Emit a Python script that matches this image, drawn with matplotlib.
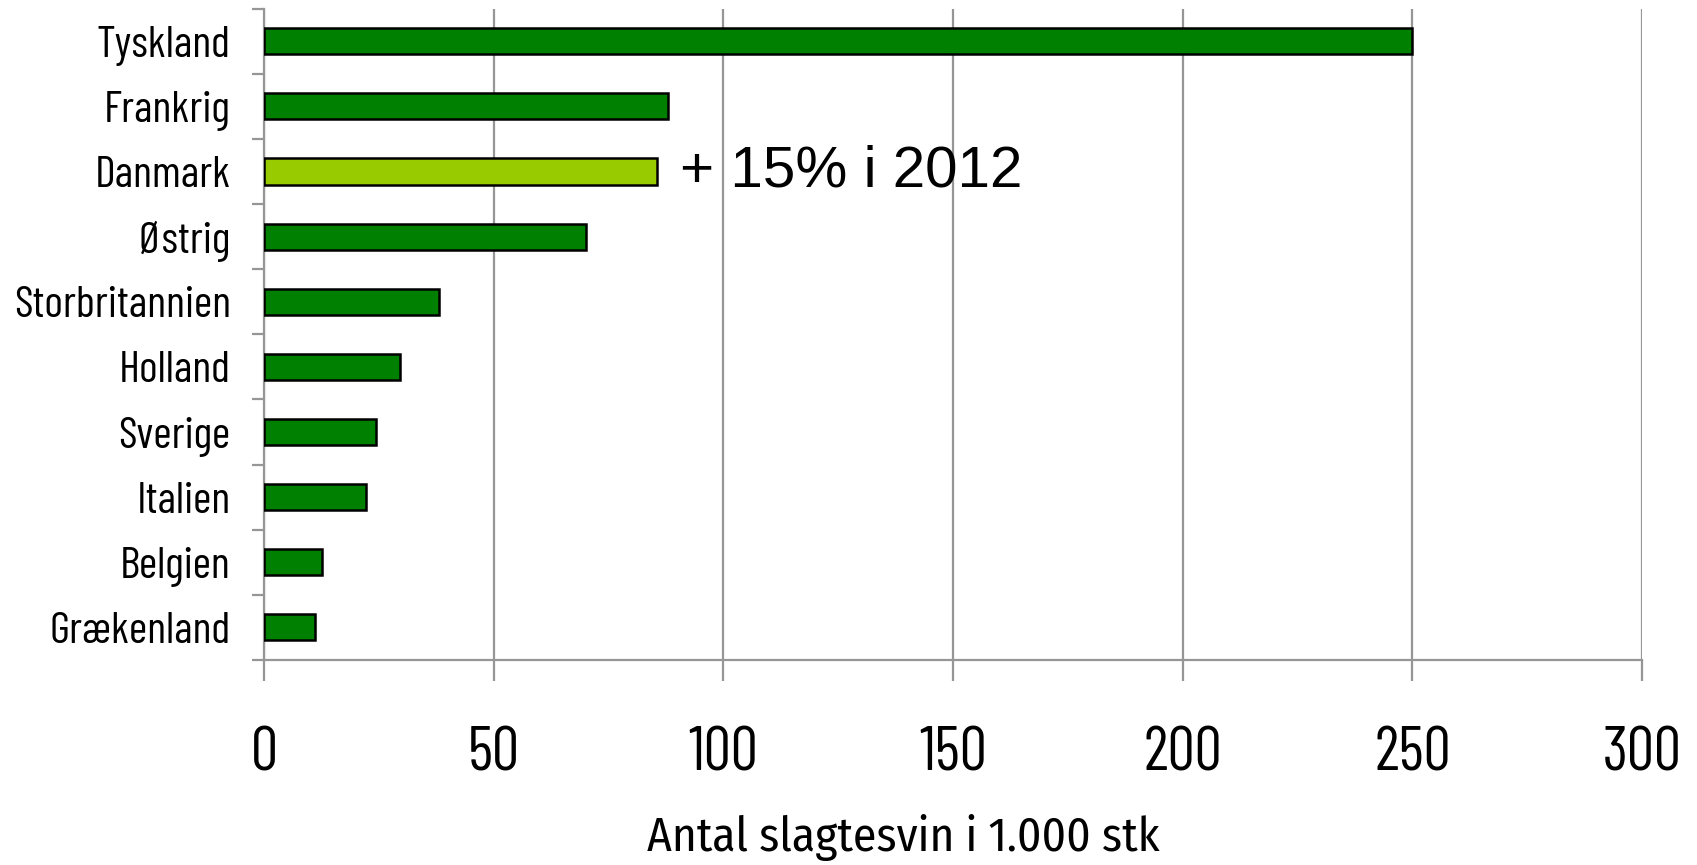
import matplotlib.pyplot as plt
import numpy as np

countries = ["Tyskland", "Frankrig", "Danmark", "Østrig", "Storbritannien",
             "Holland", "Sverige", "Italien", "Belgien", "Grækenland"]
values = [250, 88, 85.5, 70, 38, 29.5, 24.3, 22.2, 12.7, 11.1]
highlight = "Danmark"
note = "+ 15% i 2012"
xlabel = "Antal slagtesvin i 1.000 stk"
xticks = [0, 50, 100, 150, 200, 250, 300]

dark_green = "#008000"
light_green = "#99CC00"
grid_gray = "#969696"

# narrow font for the axis texts, like the original
narrow = dict(family="Barlow Condensed", weight="normal")

fig = plt.figure(figsize=(16.97, 8.65), dpi=100)
ax = fig.add_axes([0.1556, 0.237, 0.812, 0.753])

y = np.arange(len(countries))
colors = [light_green if c == highlight else dark_green for c in countries]
ax.barh(y, values, height=0.4, color=colors, edgecolor="black",
        linewidth=1.8, zorder=3)

ax.set_xlim(0, 300)
ax.set_ylim(len(countries) - 0.5, -0.5)

# vertical gridlines
ax.set_xticks(xticks)
ax.set_xticklabels([str(t) for t in xticks], fontsize=44, **narrow)
ax.xaxis.grid(True, color=grid_gray, linewidth=1.6, zorder=0)
ax.tick_params(axis="x", length=15, width=1.6, color=grid_gray, pad=33)

# category labels, ticks on the boundaries
ax.set_yticks(y)
ax.set_yticklabels(countries, fontsize=32, **narrow)
ax.tick_params(axis="y", which="major", length=0, pad=24)
ax.set_yticks(np.arange(-0.5, len(countries), 1), minor=True)
ax.tick_params(axis="y", which="minor", length=9, width=1.6, color=grid_gray)

for side in ["top", "right"]:
    ax.spines[side].set_visible(False)
for side in ["left", "bottom"]:
    ax.spines[side].set_color(grid_gray)
    ax.spines[side].set_linewidth(1.6)

ax.text(90.5, countries.index(highlight), note, va="center", ha="left",
        fontsize=42, family="Liberation Sans")

fig.text(903 / 1697, 1 - 838 / 865, xlabel, ha="center", va="center",
         fontsize=34, family="Fira Sans Condensed")

fig.savefig("out.png", dpi=100)
